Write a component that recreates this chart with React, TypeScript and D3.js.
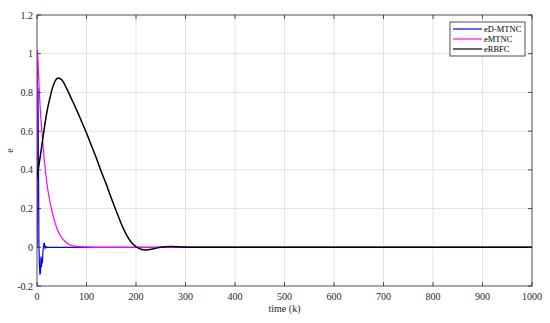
import React from "react";
import * as d3 from "d3";

// values
const xTicks = [0, 100, 200, 300, 400, 500, 600, 700, 800, 900, 1000];
const yTicks = [-0.2, 0, 0.2, 0.4, 0.6, 0.8, 1, 1.2];

const kBlue = [0, 1, 2, 3, 4, 5, 6, 7, 8, 9, 10, 11, 12, 13, 14, 15, 16, 17, 18, 19, 20, 30, 1000];
const eBlue = [0, 0.5, 0.82, 0.4, 0.0, -0.1, -0.14, -0.13, -0.05, -0.1, -0.06, -0.08, -0.02, 0.0, 0.02, 0.02, -0.005, 0.005, -0.003, 0.003, 0, 0, 0];

const kMag = [0, 1, 3, 5, 8, 10, 13, 16, 20, 25, 30, 35, 40, 46, 55, 67, 80, 95, 120, 1000];
const eMag = [0, 1.02, 0.9, 0.79, 0.66, 0.6, 0.5, 0.42, 0.33, 0.25, 0.19, 0.14, 0.1, 0.065, 0.035, 0.012, 0.005, 0.002, 0, 0];

const kBlack = [0, 1, 3, 6, 10, 15, 20, 26, 32, 38, 43, 50, 60, 70, 80, 90, 100, 110, 120, 130, 140, 150, 160, 170, 180, 190, 200, 210, 220, 235, 250, 270, 290, 320, 1000];
const eBlack = [0.35, 0.38, 0.41, 0.46, 0.53, 0.62, 0.7, 0.77, 0.83, 0.865, 0.875, 0.865, 0.82, 0.765, 0.71, 0.65, 0.59, 0.525, 0.46, 0.39, 0.325, 0.255, 0.188, 0.123, 0.068, 0.027, 0.003, -0.01, -0.014, -0.008, 0, 0.004, 0.002, 0, 0];

const series = [
  { name: "eD-MTNC", color: "#0000ff", k: kBlue, e: eBlue, curve: d3.curveLinear, width: 1.2 },
  { name: "eMTNC", color: "#ff00ff", k: kMag, e: eMag, curve: d3.curveMonotoneX, width: 1.2 },
  { name: "eRBFC", color: "#000000", k: kBlack, e: eBlack, curve: d3.curveMonotoneX, width: 1.5 },
];

const W = 550;
const H = 323;
const m = { left: 37, right: 532, top: 15, bottom: 286 };
const axisColor = "#262626";
const font = "Liberation Serif, Times New Roman, serif";

export default function App() {
  const x = d3.scaleLinear().domain([0, 1000]).range([m.left, m.right]);
  const y = d3.scaleLinear().domain([-0.2, 1.2]).range([m.bottom, m.top]);

  const makePath = (s: (typeof series)[number]) =>
    d3
      .line<number>()
      .x((_, i) => x(s.k[i]))
      .y((d) => y(d))
      .curve(s.curve)(s.e) || "";

  const tickLen = 4;

  return (
    <svg
      width={W}
      height={H}
      style={{ position: "absolute", left: 0, top: 0, background: "#fff", fontFamily: font }}
    >
      <rect x={0} y={0} width={W} height={H} fill="#fff" />
      {/* grid */}
      <g stroke="#e3e3e3" strokeWidth={1}>
        {xTicks.slice(1, -1).map((t) => (
          <line key={"gx" + t} x1={x(t)} x2={x(t)} y1={m.top} y2={m.bottom} />
        ))}
        {yTicks.slice(1, -1).map((t) => (
          <line key={"gy" + t} x1={m.left} x2={m.right} y1={y(t)} y2={y(t)} />
        ))}
      </g>

      {/* data */}
      <defs>
        <clipPath id="plot">
          <rect x={m.left} y={m.top} width={m.right - m.left} height={m.bottom - m.top} />
        </clipPath>
      </defs>
      <g clipPath="url(#plot)" fill="none">
        {series.map((s) => (
          <path
            key={s.name}
            d={makePath(s)}
            stroke={s.color}
            strokeWidth={s.width}
            strokeLinejoin="round"
          />
        ))}
      </g>

      {/* box and ticks */}
      <rect
        x={m.left}
        y={m.top}
        width={m.right - m.left}
        height={m.bottom - m.top}
        fill="none"
        stroke={axisColor}
        strokeWidth={0.8}
      />
      <g stroke={axisColor} strokeWidth={0.8}>
        {xTicks.map((t) => (
          <g key={"tx" + t}>
            <line x1={x(t)} x2={x(t)} y1={m.bottom} y2={m.bottom - tickLen} />
            <line x1={x(t)} x2={x(t)} y1={m.top} y2={m.top + tickLen} />
          </g>
        ))}
        {yTicks.map((t) => (
          <g key={"ty" + t}>
            <line x1={m.left} x2={m.left + tickLen} y1={y(t)} y2={y(t)} />
            <line x1={m.right} x2={m.right - tickLen} y1={y(t)} y2={y(t)} />
          </g>
        ))}
      </g>

      {/* tick labels */}
      <g style={{ fontFamily: font, fontSize: "10px" }} fill={axisColor}>
        {xTicks.map((t) => (
          <text key={"lx" + t} x={x(t)} y={m.bottom + 14} textAnchor="middle">
            {t}
          </text>
        ))}
        {yTicks.map((t) => (
          <text key={"ly" + t} x={m.left - 4} y={y(t) + 3.5} textAnchor="end">
            {t}
          </text>
        ))}
      </g>

      {/* axis labels */}
      <g style={{ fontFamily: font, fontSize: "10px" }} fill={axisColor}>
        <text x={(m.left + m.right) / 2} y={312} textAnchor="middle">
          time (k)
        </text>
        <text transform={`translate(13,${(m.top + m.bottom) / 2}) rotate(-90)`} textAnchor="middle">
          e
        </text>
      </g>

      {/* legend */}
      <g style={{ fontFamily: font, fontSize: "8.5px" }}>
        <rect x={450} y={22} width={75} height={34} fill="#fff" stroke={axisColor} strokeWidth={0.8} />
        {series.map((s, i) => (
          <g key={"lg" + s.name} transform={`translate(0,${29 + i * 10})`}>
            <line x1={453} x2={482} y1={0} y2={0} stroke={s.color} strokeWidth={1.2} />
            <text x={484} y={3} fill="#000">
              {s.name}
            </text>
          </g>
        ))}
      </g>
    </svg>
  );
}
